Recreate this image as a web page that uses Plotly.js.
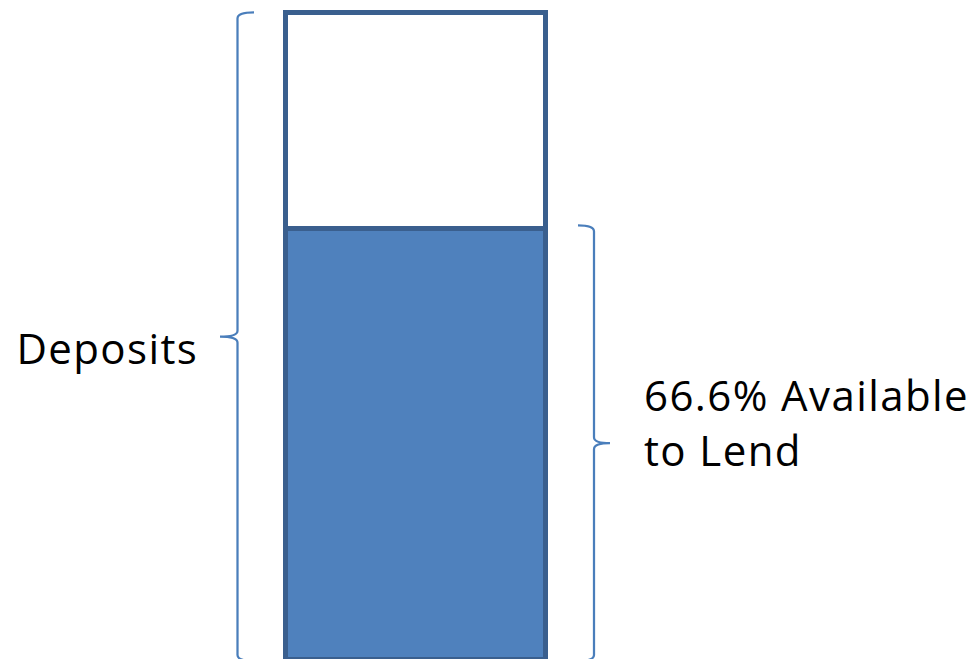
<!DOCTYPE html>
<html>
<head>
<meta charset="utf-8">
<script src="https://cdn.plot.ly/plotly-3.0.1.min.js"></script>
<style>html,body{margin:0;padding:0;background:#fff;}#chart{width:978px;height:659px;}
#chart .annotation-text{letter-spacing:1.4px;}</style>
</head>
<body>
<div id="chart"></div>
<script>
// ---- data ----
const category = ["Deposits"];
const segmentNames = ["Available to Lend", "Reserve"];
const availableValues = [66.6];
const reserveValues = [33.4];
const depositsLabel = "Deposits";
const lendLine1Suffix = "% Available";
const lendLine2 = "to Lend";

// ---- styles ----
const W = 978, H = 659;
const fillBlue = "#4F81BD";
const borderBlue = "#3A5F8E";
const braceBlue = "#4A7EBB";
const yMax = 101.93;
const fontFam = "'Open Sans', Lato, sans-serif";
const fontSize = 42;

const total = availableValues[0] + reserveValues[0];
const avail = availableValues[0];

function px2paper(p) { return p / W; }
function pxToUnits(p) { return p * yMax / H; }

// brace path: x in paper, y in data units
function brace(xVertPx, xEndPx, xTipPx, y0, y1) {
  const xv = px2paper(xVertPx), xe = px2paper(xEndPx), xt = px2paper(xTipPx);
  const r = pxToUnits(6);
  const ym = (y0 + y1) / 2;
  return `M ${xe},${y1} Q ${xv},${y1} ${xv},${y1 - r} L ${xv},${ym + r} Q ${xv},${ym} ${xt},${ym} ` +
         `Q ${xv},${ym} ${xv},${ym - r} L ${xv},${y0 + r} Q ${xv},${y0} ${xe},${y0}`;
}

const traces = [
  {
    type: "bar", x: category, y: availableValues, name: segmentNames[0],
    marker: { color: fillBlue, line: { color: borderBlue, width: 5 } },
    width: 1, hoverinfo: "skip"
  },
  {
    type: "bar", x: category, y: reserveValues, name: segmentNames[1],
    marker: { color: "#FFFFFF", line: { color: borderBlue, width: 5 } },
    width: 1, hoverinfo: "skip"
  }
];

const txtFont = { family: fontFam, size: fontSize, color: "#000000" };
const line1 = avail.toFixed(1) + lendLine1Suffix;

const layout = {
  width: W, height: H,
  margin: { l: 0, r: 0, t: 0, b: 0, pad: 0 },
  barmode: "stack",
  showlegend: false,
  paper_bgcolor: "#FFFFFF",
  plot_bgcolor: "#FFFFFF",
  xaxis: { visible: false, type: "category", range: [-1.598, 2.1635], fixedrange: true },
  yaxis: { visible: false, range: [0, yMax], fixedrange: true },
  shapes: [
    { type: "path", xref: "paper", yref: "y", path: brace(237.5, 254, 220, 0 - pxToUnits(2), total), line: { color: braceBlue, width: 2.25 } },
    { type: "path", xref: "paper", yref: "y", path: brace(594, 578, 610, 0 - pxToUnits(2), avail + pxToUnits(3)), line: { color: braceBlue, width: 2.25 } }
  ],
  annotations: [
    {
      xref: "paper", yref: "y", x: px2paper(19.5), y: total / 2, xanchor: "left", yanchor: "middle",
      text: depositsLabel, showarrow: false, yshift: -11.5,
      font: txtFont
    },
    {
      xref: "paper", yref: "y", x: px2paper(641.5), y: avail / 2, xanchor: "left", yanchor: "middle",
      text: line1, showarrow: false, align: "left", yshift: 49.5,
      font: txtFont
    },
    {
      xref: "paper", yref: "y", x: px2paper(642), y: avail / 2, xanchor: "left", yanchor: "middle",
      text: lendLine2, showarrow: false, align: "left", yshift: -5.5,
      font: txtFont
    }
  ],
  hovermode: false
};

Plotly.newPlot("chart", traces, layout, { staticPlot: true, displayModeBar: false });
</script>
</body>
</html>
